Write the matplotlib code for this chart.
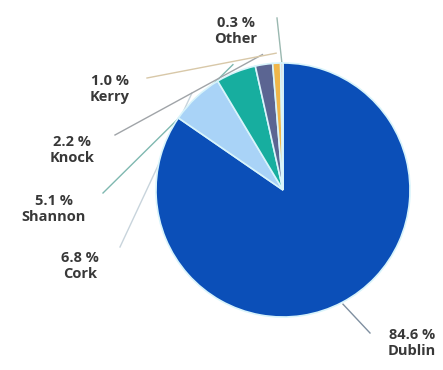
import numpy as np
import matplotlib
matplotlib.use("Agg")
import matplotlib.pyplot as plt

airports = ["Dublin", "Cork", "Shannon", "Knock", "Kerry", "Other"]
shares = [84.6, 6.8, 5.1, 2.2, 1.0, 0.3]
colors = ["#0b4fb8", "#a9d3f7", "#17ae9f", "#5b6592", "#f0b64a", "#e9c7c0"]
line_colors = ["#7f8fa0", "#c8d4dc", "#7fb8b0", "#a0a4a8", "#d8c8a8", "#9ab8b0"]

# layout in pixel space (y measured from top)
W, H = 443, 370
CX, CY, R = 283, 190, 127
label_pos = [(412, 343), (80, 266), (54, 209), (72, 150), (110, 89), (236, 31)]
line_start = [(370, 333), (120, 247), (103, 193), (115, 135), (147, 78), (277, 18)]
line_gap = [2, 6, 8, 10, 10, 1]

fig = plt.figure(figsize=(W / 100, H / 100), dpi=100)
ax = fig.add_axes([0, 0, 1, 1])

wedges, _ = ax.pie(
    shares,
    colors=colors,
    startangle=90,
    counterclock=False,
    center=(CX, H - CY),
    radius=R,
    wedgeprops=dict(edgecolor="#d8f4fb", linewidth=1.2),
)
ax.set_xlim(0, W)
ax.set_ylim(0, H)
ax.set_aspect("equal")
ax.axis("off")

for w, name, val, (lx, ly), (sx, sy), lc, gap in zip(
    wedges, airports, shares, label_pos, line_start, line_colors, line_gap
):
    mid = np.deg2rad((w.theta1 + w.theta2) / 2)
    ex = CX + (R + gap) * np.cos(mid)
    ey = H - CY + (R + gap) * np.sin(mid)
    ax.plot([sx, ex], [H - sy, ey], color=lc, lw=1.0, zorder=0)
    ax.text(lx, H - ly, f"{val:.1f} %\n{name}", ha="center", va="center",
            fontsize=10.5, fontweight="bold", color="#383838",
            family="Open Sans", linespacing=1.2)

fig.savefig("out.png", dpi=100)
